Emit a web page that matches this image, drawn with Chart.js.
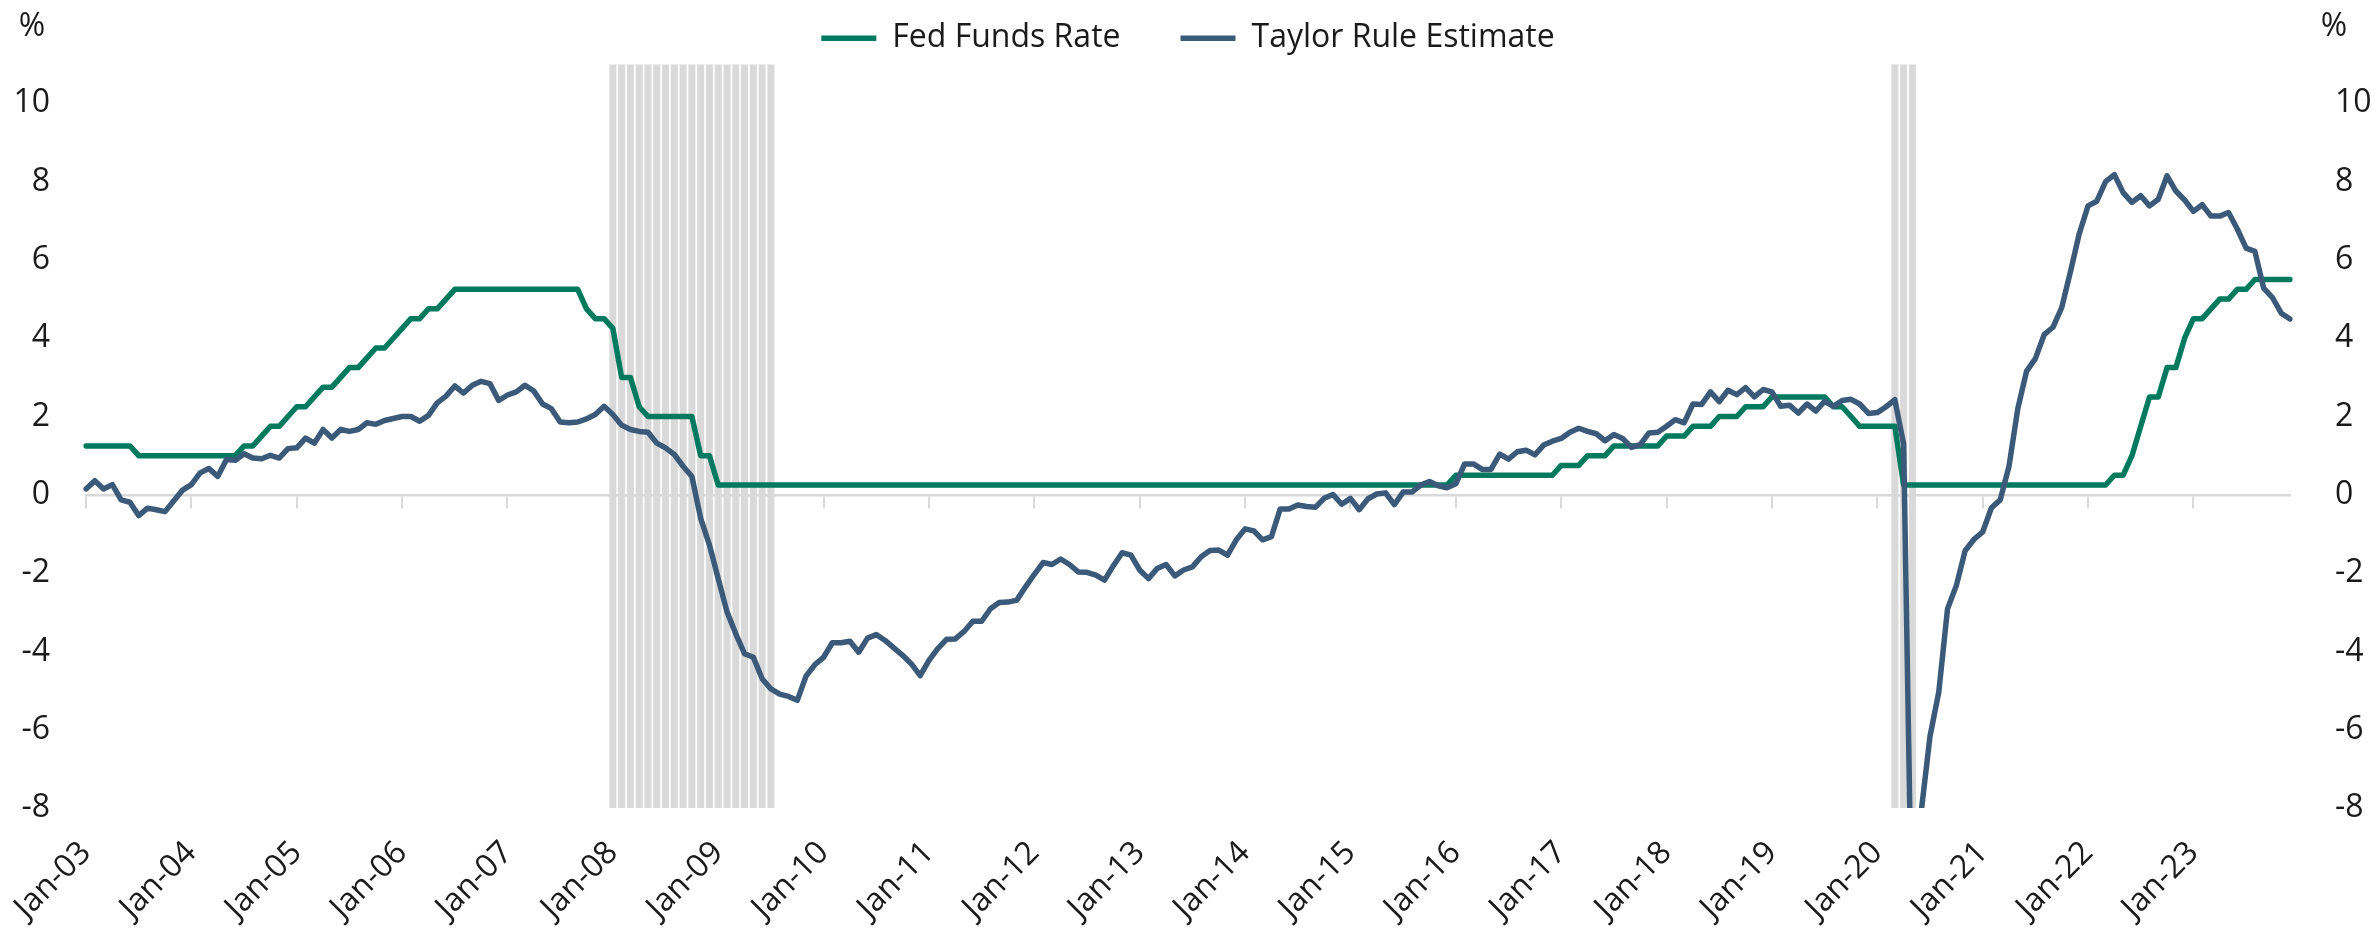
<!DOCTYPE html>
<html>
<head>
<meta charset="utf-8">
<script src="https://cdn.jsdelivr.net/npm/chart.js@4.4.1/dist/chart.umd.min.js"></script>
<style>
  html, body { margin: 0; padding: 0; background: #fff; }
  #wrap { width: 2376px; height: 932px; position: relative; }
</style>
</head>
<body>
<div id="wrap"><canvas id="taylorChart"></canvas></div>
<script>
// monthly categories Jan-03 .. Dec-23
const monthNames = ["Jan", "Feb", "Mar", "Apr", "May", "Jun", "Jul", "Aug", "Sep", "Oct", "Nov", "Dec"];
const years = [3, 4, 5, 6, 7, 8, 9, 10, 11, 12, 13, 14, 15, 16, 17, 18, 19, 20, 21, 22, 23];
const labels = [];
years.forEach(y => monthNames.forEach(m => labels.push(m + "-" + String(y).padStart(2, "0"))));

const fedFunds = [
    1.25, 1.25, 1.25, 1.25, 1.25, 1.25, 1, 1, 1, 1, 1, 1,                 // 2003
    1, 1, 1, 1, 1, 1, 1.25, 1.25, 1.5, 1.75, 1.75, 2,                     // 2004
    2.25, 2.25, 2.5, 2.75, 2.75, 3, 3.25, 3.25, 3.5, 3.75, 3.75, 4,       // 2005
    4.25, 4.5, 4.5, 4.75, 4.75, 5, 5.25, 5.25, 5.25, 5.25, 5.25, 5.25,    // 2006
    5.25, 5.25, 5.25, 5.25, 5.25, 5.25, 5.25, 5.25, 5.25, 4.75, 4.5, 4.5, // 2007
    4.25, 3, 3, 2.25, 2, 2, 2, 2, 2, 2, 1, 1,                             // 2008
    0.25, 0.25, 0.25, 0.25, 0.25, 0.25, 0.25, 0.25, 0.25, 0.25, 0.25, 0.25, // 2009
    0.25, 0.25, 0.25, 0.25, 0.25, 0.25, 0.25, 0.25, 0.25, 0.25, 0.25, 0.25, // 2010
    0.25, 0.25, 0.25, 0.25, 0.25, 0.25, 0.25, 0.25, 0.25, 0.25, 0.25, 0.25, // 2011
    0.25, 0.25, 0.25, 0.25, 0.25, 0.25, 0.25, 0.25, 0.25, 0.25, 0.25, 0.25, // 2012
    0.25, 0.25, 0.25, 0.25, 0.25, 0.25, 0.25, 0.25, 0.25, 0.25, 0.25, 0.25, // 2013
    0.25, 0.25, 0.25, 0.25, 0.25, 0.25, 0.25, 0.25, 0.25, 0.25, 0.25, 0.25, // 2014
    0.25, 0.25, 0.25, 0.25, 0.25, 0.25, 0.25, 0.25, 0.25, 0.25, 0.25, 0.25, // 2015
    0.5, 0.5, 0.5, 0.5, 0.5, 0.5, 0.5, 0.5, 0.5, 0.5, 0.5, 0.5,           // 2016
    0.75, 0.75, 0.75, 1, 1, 1, 1.25, 1.25, 1.25, 1.25, 1.25, 1.25,        // 2017
    1.5, 1.5, 1.5, 1.75, 1.75, 1.75, 2, 2, 2, 2.25, 2.25, 2.25,           // 2018
    2.5, 2.5, 2.5, 2.5, 2.5, 2.5, 2.5, 2.25, 2.25, 2, 1.75, 1.75,         // 2019
    1.75, 1.75, 1.75, 0.25, 0.25, 0.25, 0.25, 0.25, 0.25, 0.25, 0.25, 0.25, // 2020
    0.25, 0.25, 0.25, 0.25, 0.25, 0.25, 0.25, 0.25, 0.25, 0.25, 0.25, 0.25, // 2021
    0.25, 0.25, 0.25, 0.5, 0.5, 1, 1.75, 2.5, 2.5, 3.25, 3.25, 4,         // 2022
    4.5, 4.5, 4.75, 5, 5, 5.25, 5.25, 5.5, 5.5, 5.5, 5.5, 5.5             // 2023
];

const taylorRule = [
    0.15, 0.36, 0.15, 0.26, -0.13, -0.19, -0.53, -0.34, -0.38, -0.43, -0.15, 0.12,   // 2003
    0.26, 0.56, 0.67, 0.47, 0.9, 0.88, 1.05, 0.94, 0.92, 1.01, 0.94, 1.18,           // 2004
    1.2, 1.45, 1.32, 1.67, 1.45, 1.67, 1.62, 1.67, 1.84, 1.8, 1.9, 1.95,             // 2005
    2.0, 2.0, 1.88, 2.03, 2.35, 2.52, 2.78, 2.6, 2.8, 2.9, 2.84, 2.41,               // 2006
    2.55, 2.63, 2.8, 2.65, 2.32, 2.2, 1.86, 1.84, 1.86, 1.94, 2.05, 2.26,            // 2007
    2.05, 1.78, 1.67, 1.62, 1.6, 1.32, 1.2, 1.03, 0.73, 0.47, -0.6, -1.28,           // 2008
    -2.14, -2.99, -3.55, -4.06, -4.15, -4.7, -4.96, -5.09, -5.15, -5.25, -4.63, -4.34, // 2009
    -4.15, -3.78, -3.78, -3.74, -4.02, -3.66, -3.57, -3.72, -3.91, -4.1, -4.32, -4.62, // 2010
    -4.23, -3.93, -3.69, -3.68, -3.49, -3.23, -3.23, -2.91, -2.75, -2.74, -2.69, -2.35, // 2011
    -2.03, -1.73, -1.78, -1.64, -1.78, -1.97, -1.98, -2.05, -2.18, -1.81, -1.48, -1.54, // 2012
    -1.92, -2.14, -1.88, -1.78, -2.07, -1.92, -1.84, -1.58, -1.42, -1.41, -1.54, -1.15, // 2013
    -0.87, -0.92, -1.15, -1.07, -0.36, -0.36, -0.26, -0.3, -0.32, -0.09, 0.01, -0.24,  // 2014
    -0.09, -0.38, -0.1, 0.02, 0.05, -0.25, 0.07, 0.07, 0.25, 0.34, 0.23, 0.18,       // 2015
    0.28, 0.79, 0.79, 0.65, 0.65, 1.04, 0.91, 1.1, 1.14, 1.02, 1.27, 1.37,           // 2016
    1.44, 1.6, 1.7, 1.62, 1.56, 1.38, 1.54, 1.44, 1.21, 1.28, 1.58, 1.6,             // 2017
    1.75, 1.92, 1.84, 2.32, 2.31, 2.63, 2.38, 2.67, 2.56, 2.74, 2.5, 2.69,           // 2018
    2.63, 2.26, 2.29, 2.09, 2.32, 2.14, 2.39, 2.26, 2.41, 2.44, 2.32, 2.08,          // 2019
    2.1, 2.25, 2.43, 1.29, -12, -8.1, -6.17, -5.04, -2.91, -2.32, -1.43, -1.14,      // 2020
    -0.95, -0.33, -0.13, 0.73, 2.2, 3.16, 3.48, 4.09, 4.28, 4.78, 5.7, 6.67,         // 2021
    7.38, 7.5, 8.0, 8.18, 7.72, 7.47, 7.64, 7.38, 7.55, 8.15, 7.76, 7.53,            // 2022
    7.24, 7.41, 7.12, 7.12, 7.21, 6.79, 6.3, 6.22, 5.28, 5.04, 4.64, 4.49            // 2023
];

// shaded periods (first and last shaded month)
const recessions = [["Jan-08", "Jul-09"], ["Mar-20", "May-20"]];

const yMin = -8;
const yMax = 11;

const shaded = labels.map((lab, i) => {
    const hit = recessions.some(r => i >= labels.indexOf(r[0]) && i <= labels.indexOf(r[1]));
    return hit ? [yMin, yMax] : null;
});

Chart.defaults.font.family = "'Open Sans', sans-serif";
Chart.defaults.font.size = 32;
Chart.defaults.color = "#1a1a1a";

const percentLabels = {
    id: "percentLabels",
    afterDraw(chart) {
        const ctx = chart.ctx;
        ctx.save();
        ctx.font = "32px 'Open Sans'";
        ctx.fillStyle = "#1a1a1a";
        ctx.textAlign = "center";
        ctx.textBaseline = "middle";
        ctx.fillText("%", chart.scales.y.left + 32, 27);
        ctx.fillText("%", chart.scales.y2.left + 44, 27);
        ctx.restore();
    }
};

new Chart(document.getElementById("taylorChart"), {
    type: "line",
    data: {
        labels: labels,
        datasets: [
            {
                label: "Fed Funds Rate",
                data: fedFunds,
                borderColor: "#007a5e",
                backgroundColor: "#007a5e",
                borderWidth: 5.5,
                borderCapStyle: "round",
                borderJoinStyle: "round",
                pointRadius: 0,
                tension: 0,
                order: 2
            },
            {
                label: "Taylor Rule Estimate",
                data: taylorRule,
                borderColor: "#3b5a7a",
                backgroundColor: "#3b5a7a",
                borderWidth: 5.5,
                borderCapStyle: "round",
                borderJoinStyle: "round",
                pointRadius: 0,
                tension: 0,
                order: 1
            },
            {
                type: "bar",
                label: "Recession",
                data: shaded,
                backgroundColor: "#d9d9d9",
                barPercentage: 0.8,
                categoryPercentage: 1,
                order: 3
            }
        ]
    },
    options: {
        responsive: true,
        maintainAspectRatio: false,
        animation: false,
        layout: { padding: { top: -39, left: 0, right: 0, bottom: 0 } },
        plugins: {
            tooltip: { enabled: false },
            legend: {
                position: "top",
                maxHeight: 104,
                labels: {
                    usePointStyle: true,
                    pointStyle: "line",
                    pointStyleWidth: 55,
                    padding: 60,
                    color: "#1a1a1a",
                    font: { size: 32 },
                    filter: item => item.text !== "Recession",
                    sort: (a, b) => a.datasetIndex - b.datasetIndex
                }
            }
        },
        scales: {
            x: {
                type: "category",
                axis: "x",
                position: { y: 0 },
                offset: false,
                grid: {
                    offset: false,
                    drawOnChartArea: false,
                    drawTicks: true,
                    tickLength: 12,
                    lineWidth: 2,
                    color: ctx => (ctx.index % 12 === 0 ? "#d9d9d9" : "rgba(0,0,0,0)")
                },
                border: { display: true, color: "#d9d9d9", width: 2.5 },
                ticks: { display: false, autoSkip: false }
            },
            x2: {
                type: "category",
                axis: "x",
                position: "bottom",
                offset: false,
                grid: { display: false, drawTicks: false },
                border: { display: false },
                ticks: {
                    autoSkip: false,
                    maxRotation: 45,
                    minRotation: 45,
                    padding: 26,
                    font: { size: 32 },
                    callback: function (value, index) {
                        return index % 12 === 0 ? this.getLabelForValue(value) : "";
                    }
                },
                afterFit: scale => {
                    scale.height = 124;
                    scale.paddingLeft = 0;
                    scale.paddingRight = 0;
                }
            },
            y: {
                position: "left",
                min: yMin,
                max: yMax,
                grid: { display: false, drawTicks: false },
                border: { display: false },
                ticks: { stepSize: 2, includeBounds: false, padding: 36, font: { size: 32 } },
                afterFit: scale => { scale.width = 86; }
            },
            y2: {
                position: "right",
                min: yMin,
                max: yMax,
                grid: { display: false, drawTicks: false },
                border: { display: false },
                ticks: { stepSize: 2, includeBounds: false, padding: 45, font: { size: 32 } },
                afterFit: scale => { scale.width = 86; }
            }
        }
    },
    plugins: [percentLabels]
});
</script>
</body>
</html>
